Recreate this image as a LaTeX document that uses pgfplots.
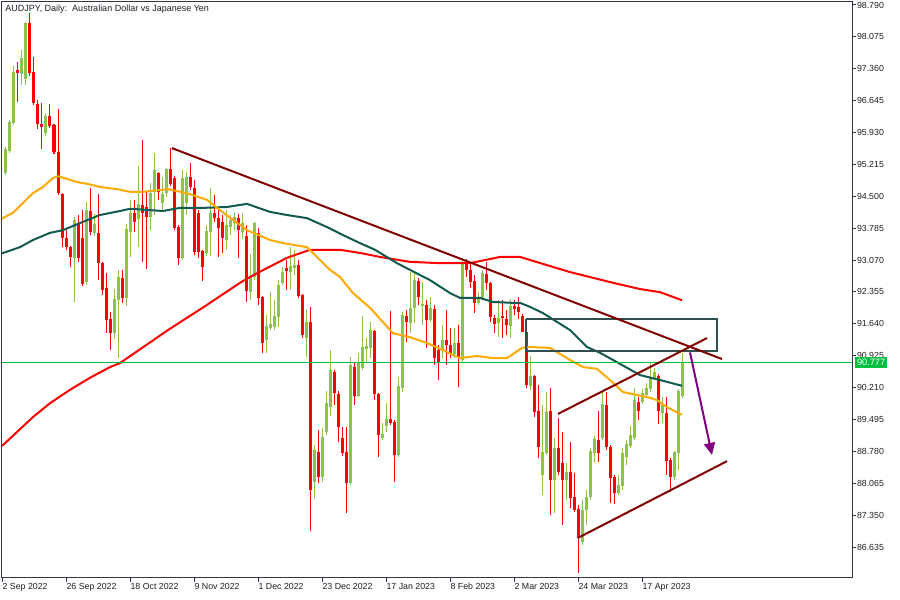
\documentclass[border=0pt]{standalone}
\usepackage{pgfplots}
\pgfplotsset{compat=1.18}
\usepackage{pgfplotstable}
\usepackage{fontspec}
\setmainfont{Liberation Sans}
\usetikzlibrary{arrows.meta}
\definecolor{bull}{RGB}{140,195,75}
\definecolor{bear}{RGB}{255,0,0}
\definecolor{maorange}{RGB}{255,170,0}
\definecolor{madkgreen}{RGB}{16,90,78}
\definecolor{mared}{RGB}{255,0,0}
\definecolor{trend}{RGB}{128,0,0}
\definecolor{rectc}{RGB}{47,79,79}
\definecolor{arrowc}{RGB}{128,0,128}
\definecolor{pricegreen}{RGB}{0,192,64}
\definecolor{axisc}{RGB}{50,55,65}
\definecolor{labc}{RGB}{30,30,35}

\pgfplotstableread{
i O H L C
0 95.02 95.61 94.98 95.56
1 95.52 96.21 95.47 96.17
2 96.14 97.42 96.10 97.29
3 97.33 97.51 96.61 97.26
4 97.24 97.78 97.00 97.60
5 97.13 98.41 97.00 98.39
6 98.39 98.61 97.20 97.26
7 97.29 97.62 96.55 96.59
8 96.57 96.66 96.01 96.12
9 96.12 96.59 95.56 96.05
10 95.92 96.37 95.85 96.30
11 96.30 96.57 96.03 96.08
12 96.10 96.12 95.45 95.49
13 95.49 96.46 94.53 94.57
14 94.55 94.57 93.36 93.57
15 93.57 93.74 93.30 93.36
16 93.36 93.38 92.91 93.14
17 93.12 94.04 92.13 93.97
18 93.90 94.08 93.03 93.12
19 93.57 94.19 92.49 92.53
20 92.58 94.37 92.51 94.19
21 94.17 94.69 93.63 93.70
22 93.68 94.10 93.61 93.88
23 93.68 94.55 92.62 93.00
24 93.00 93.02 92.28 92.40
25 92.44 92.78 91.43 91.73
26 91.75 91.91 91.05 91.43
27 91.43 92.42 91.30 92.20
28 92.17 92.85 90.87 92.69
29 92.67 92.85 92.11 92.22
30 92.22 93.88 92.04 93.77
31 93.70 94.42 93.14 94.13
32 94.13 94.42 93.70 93.92
33 93.99 95.18 93.36 94.33
34 94.30 95.76 93.03 94.13
35 94.26 94.60 92.87 94.04
36 94.04 94.79 93.74 94.57
37 94.60 95.47 94.08 95.09
38 95.02 95.04 94.42 94.60
39 94.35 94.93 94.19 94.55
40 94.57 95.13 94.48 95.11
41 95.11 95.58 94.73 94.77
42 94.91 94.95 93.74 93.79
43 93.81 93.86 92.96 93.12
44 93.12 95.09 93.07 94.91
45 94.35 95.04 94.08 94.93
46 94.93 95.25 94.64 94.71
47 94.69 94.87 93.18 93.25
48 94.13 94.19 93.12 93.25
49 93.27 93.30 92.60 92.91
50 93.23 93.86 93.16 93.72
51 93.70 94.69 93.16 94.13
52 94.13 94.53 93.92 94.01
53 94.01 94.19 93.14 93.79
54 93.92 94.08 93.23 93.57
55 93.52 94.19 93.30 93.86
56 93.81 94.08 93.63 93.97
57 93.90 94.15 93.74 94.04
58 94.01 94.10 93.12 93.74
59 93.70 94.13 93.55 93.90
60 93.61 93.86 92.13 92.38
61 92.35 93.21 92.17 92.69
62 92.69 93.92 92.62 93.90
63 93.68 93.79 92.06 92.22
64 92.24 92.26 90.99 91.21
65 91.28 91.84 90.99 91.59
66 91.55 92.35 91.50 91.64
67 91.57 92.17 91.50 91.82
68 91.79 92.62 91.57 92.51
69 92.56 92.91 92.51 92.80
70 92.89 93.07 92.40 92.82
71 92.80 93.36 92.40 92.94
72 92.89 93.30 92.73 92.96
73 92.96 93.07 92.22 92.26
74 92.28 92.30 91.32 91.39
75 91.32 91.97 90.90 91.68
76 91.68 92.02 86.99 87.91
77 88.09 88.92 87.71 88.81
78 88.77 89.26 88.07 88.20
79 88.20 89.30 88.09 89.10
80 89.21 90.13 89.14 89.86
81 89.77 91.05 89.57 90.60
82 90.56 90.60 89.82 90.09
83 90.07 90.13 88.99 89.33
84 89.08 89.33 88.68 88.74
85 88.77 89.33 87.40 88.07
86 88.07 90.90 88.03 90.72
87 90.67 90.78 89.82 90.02
88 90.02 90.99 90.00 90.78
89 90.65 91.82 90.60 91.12
90 91.08 91.32 90.78 91.14
91 91.10 91.68 90.87 91.50
92 91.48 91.50 89.93 90.07
93 90.07 90.09 88.66 89.15
94 89.08 89.42 89.03 89.17
95 89.35 89.86 89.21 89.50
96 89.50 91.93 89.37 89.42
97 89.44 89.48 88.09 88.70
98 88.70 90.45 88.66 90.25
99 90.20 91.91 90.11 91.84
100 91.82 91.95 91.23 91.68
101 91.66 92.80 91.43 91.99
102 91.99 92.80 91.66 92.62
103 92.60 92.67 92.06 92.24
104 92.04 92.58 91.61 92.08
105 92.06 92.17 91.10 91.73
106 91.73 92.24 91.68 91.99
107 91.97 92.06 90.72 90.87
108 91.05 91.16 90.38 90.78
109 91.05 91.61 90.87 91.28
110 91.28 91.95 90.72 91.16
111 91.16 91.55 90.87 90.96
112 90.96 91.55 90.87 91.21
113 91.21 91.61 90.22 90.90
114 90.83 93.12 90.78 92.98
115 92.98 93.10 92.70 92.85
116 92.85 93.00 92.45 92.58
117 92.60 92.73 91.88 92.11
118 92.11 92.35 92.06 92.22
119 92.20 92.85 92.17 92.78
120 92.76 93.03 92.40 92.56
121 92.56 92.58 91.68 91.79
122 91.77 91.84 91.43 91.64
123 91.66 92.17 91.34 91.77
124 91.82 92.17 91.32 91.77
125 91.75 91.95 91.39 91.61
126 91.59 92.20 91.32 92.04
127 92.04 92.17 91.84 91.97
128 92.02 92.24 91.75 91.91
129 91.82 91.86 91.45 91.46
130 91.46 91.55 90.20 90.27
131 90.25 90.92 90.16 90.47
132 90.47 90.49 89.55 89.66
133 89.69 90.27 88.63 88.88
134 88.25 89.82 87.80 88.77
135 88.74 90.11 88.70 89.66
136 89.69 90.20 87.35 88.14
137 88.14 89.08 87.40 88.86
138 88.86 89.53 88.25 88.32
139 88.52 89.21 87.13 88.14
140 88.14 88.52 87.69 88.32
141 88.32 88.99 87.51 87.73
142 87.75 88.30 87.42 87.47
143 87.49 87.58 86.05 86.84
144 86.75 87.69 86.68 87.47
145 87.47 87.91 87.13 87.76
146 87.76 88.86 87.69 88.79
147 88.74 89.12 88.54 89.06
148 89.03 89.69 88.54 88.74
149 89.08 90.11 89.03 89.84
150 89.82 90.11 88.81 88.88
151 88.88 88.92 87.62 88.18
152 88.20 88.25 87.60 87.85
153 87.85 88.25 87.80 88.03
154 88.00 88.86 87.91 88.74
155 88.65 89.03 88.47 88.94
156 88.90 89.35 88.86 89.15
157 89.08 90.20 89.03 89.93
158 89.89 90.00 89.48 89.69
159 89.89 90.18 89.84 90.09
160 90.04 90.31 89.98 90.20
161 90.18 90.78 90.11 90.45
162 90.43 90.65 90.38 90.56
163 90.47 90.52 89.39 89.69
164 89.64 90.00 89.42 89.82
165 89.64 90.00 88.25 88.56
166 88.59 88.63 87.87 88.20
167 88.20 88.79 88.14 88.77
168 88.74 90.18 88.36 90.13
169 90.02 90.99 89.98 90.76
}\candles

\pgfplotsset{
  candle/.style n args={2}{draw=none, mark=none, forget plot,
    error bars/.cd, y dir=plus, y explicit, error mark=none,
    error bar style={draw=#1, line width=#2, solid}},
}

\begin{document}
\begin{tikzpicture}
\useasboundingbox (0pt,0pt) rectangle (450pt,300pt);
\begin{axis}[
  at={(1pt,11pt)}, anchor=south west,
  width=425pt, height=288pt, scale only axis,
  xmin=-1, xmax=211.5, ymin=85.94, ymax=98.857,
  clip=false,
  axis line style={axisc, line width=0.5pt},
  tick align=outside,
  major tick length=2pt,
  tick style={axisc, line width=0.5pt},
  xtick pos=bottom, ytick pos=right, yticklabel pos=right,
  tick label style={font=\fontsize{4.4pt}{5pt}\selectfont, text=labc},
  xtick={-0.8,15.2,31.2,47.2,63.2,79.2,95.2,111.2,127.2,143.2,159.2},
  xticklabels={2 Sep 2022,26 Sep 2022,18 Oct 2022,9 Nov 2022,1 Dec 2022,23 Dec 2022,17 Jan 2023,8 Feb 2023,2 Mar 2023,24 Mar 2023,17 Apr 2023},
  xticklabel style={anchor=north west, inner sep=0pt, xshift=-0.3pt, yshift=-0.5pt},
  ytick={98.790,98.075,97.360,96.645,95.930,95.215,94.500,93.785,93.070,92.355,91.640,90.925,90.210,89.495,88.780,88.065,87.350,86.635},
  yticklabels={98.790,98.075,97.360,96.645,95.930,95.215,94.500,93.785,93.070,92.355,91.640,90.925,90.210,89.495,88.780,88.065,87.350,86.635},
  yticklabel style={anchor=west, inner sep=0pt, xshift=0.3pt},
  unbounded coords=discard,
]
% wicks
\addplot[candle={bull}{0.5pt}]
  table[x=i, y expr={\thisrow{C}>=\thisrow{O} ? \thisrow{L} : nan}, y error plus expr={\thisrow{H}-\thisrow{L}}]{\candles};
\addplot[candle={bear}{0.5pt}]
  table[x=i, y expr={\thisrow{C}<\thisrow{O} ? \thisrow{L} : nan}, y error plus expr={\thisrow{H}-\thisrow{L}}]{\candles};
% bodies
\addplot[candle={bull}{1.5pt}]
  table[x=i, y expr={\thisrow{C}>=\thisrow{O} ? \thisrow{O} : nan}, y error plus expr={\thisrow{C}-\thisrow{O}}]{\candles};
\addplot[candle={bear}{1.5pt}]
  table[x=i, y expr={\thisrow{C}<\thisrow{O} ? \thisrow{C} : nan}, y error plus expr={\thisrow{O}-\thisrow{C}}]{\candles};

% moving averages
\addplot[mared, line width=1pt, forget plot] coordinates {(-1,88.90) (6.75,89.55) (11,89.86) (16,90.16) (21,90.43) (26,90.67) (28.5,90.76) (40.5,91.50) (50,92.05) (58.5,92.56) (61,92.69) (65.25,92.89) (70.25,93.12) (76,93.30) (83.5,93.30) (88.5,93.23) (93.5,93.14) (101,93.03) (108.5,93.00) (116,93.00) (123.5,93.14) (128.5,93.14) (141,92.80) (151.75,92.56) (158.5,92.42) (163.5,92.35) (169,92.17)};
\addplot[madkgreen, line width=1pt, forget plot] coordinates {(-1,93.22) (3.5,93.36) (6.75,93.52) (11,93.68) (14.25,93.74) (18.5,93.90) (23.5,94.08) (28.5,94.17) (31,94.22) (36,94.19) (39.25,94.17) (43.5,94.24) (49.25,94.24) (55.25,94.26) (60.25,94.33) (66,94.15) (70.25,94.08) (75.25,94.01) (80.25,93.81) (84.25,93.63) (88.5,93.45) (92.25,93.30) (97.75,93.00) (101,92.85) (106,92.62) (111,92.33) (113.5,92.22) (118.5,92.22) (121.75,92.13) (126.75,92.11) (128.5,92.11) (131,92.02) (134.25,91.88) (141,91.50) (145.25,91.12) (148.5,90.99) (152.75,90.78) (158.5,90.49) (163.5,90.38) (169,90.25)};
\addplot[maorange, line width=1pt, forget plot] coordinates {(-1,94.00) (1.75,94.13) (4.25,94.35) (6.75,94.57) (9.25,94.71) (11.75,94.91) (13,94.95) (15.25,94.89) (17.75,94.82) (20.25,94.78) (23.5,94.71) (27.75,94.66) (31,94.60) (34.25,94.60) (40.5,94.66) (45.25,94.57) (50.25,94.42) (53.5,94.19) (56.75,93.97) (60.25,93.74) (66,93.52) (69.25,93.45) (75.25,93.36) (78.5,93.07) (81,92.85) (83.5,92.69) (86.75,92.33) (91,92.00) (96.75,91.43) (101,91.34) (105.25,91.21) (109.25,91.05) (113.5,90.87) (117.75,90.92) (121.75,90.87) (125.25,90.87) (129,91.10) (131,91.12) (136,91.10) (141,90.83) (144.25,90.67) (147.75,90.63) (151,90.38) (154.25,90.11) (158,90.04) (161,89.98) (162.75,89.93) (165.25,89.77) (169,89.60)};

% current price line
\addplot[pricegreen, line width=0.5pt, forget plot] coordinates {(-1,90.777) (211.5,90.777)};

% rectangle zone
\addplot[rectc, line width=0.6pt, forget plot] coordinates {(130,91.75) (177.75,91.75) (177.75,91.03) (130,91.03) (130,91.75)};

% trendlines
\addplot[trend, line width=1pt, forget plot] coordinates {(41.5,95.58) (179,90.85)};
\addplot[trend, line width=1pt, forget plot] coordinates {(143,86.84) (180.25,88.56)};
\addplot[trend, line width=1pt, forget plot] coordinates {(138,89.62) (175.25,91.32)};

% arrow
\addplot[arrowc, line width=1pt, forget plot, -{Triangle[length=6pt,width=5.5pt]}] coordinates {(171,91.00) (176.5,88.70)};

\coordinate (cp) at (axis cs:211.5,90.777);
\node[anchor=west, inner sep=0pt, xshift=1.5pt, yshift=-3.5pt, text=labc, font=\fontsize{4.5pt}{5pt}\selectfont] at (rel axis cs:0,1) {AUDJPY, Daily:\ \ Australian Dollar vs Japanese Yen};
\end{axis}
\node[anchor=west, fill=pricegreen, text=white, inner xsep=0.8pt, inner ysep=0pt, minimum height=5.5pt, xshift=1.5pt, font=\fontsize{4.6pt}{5pt}\selectfont] at (cp) {90.777};
\end{tikzpicture}
\end{document}
